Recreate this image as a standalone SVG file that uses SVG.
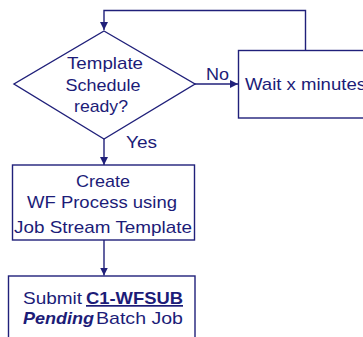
<svg xmlns="http://www.w3.org/2000/svg" width="363" height="337" viewBox="0 0 363 337">
<style>
.s{fill:#fff;stroke:#20207a;stroke-width:1.4}
.c{fill:none;stroke:#20207a;stroke-width:1.4}
.t{font-family:"Liberation Sans",Arial,sans-serif;font-size:17px;fill:#1c1c78}
.m{text-anchor:middle}
</style>
<defs>
<marker id="a" viewBox="0 0 10 10" refX="10" refY="5" markerWidth="8" markerHeight="8" markerUnits="userSpaceOnUse" orient="auto">
<path d="M0,0 L10,5 L0,10 z" fill="#20207a"/>
</marker>
</defs>
<rect width="363" height="337" fill="#fff"/>
<g id="connectors">
<path class="c" d="M305.5,50.5 V10.5 H104 V30" marker-end="url(#a)"/>
<path class="c" d="M195,84 H238" marker-end="url(#a)"/>
<path class="c" d="M104,139 V165" marker-end="url(#a)"/>
<path class="c" d="M104,240 V275.5" marker-end="url(#a)"/>
<text class="t" x="206" y="80" textLength="23" lengthAdjust="spacingAndGlyphs">No</text>
<text class="t" x="126" y="148" textLength="31" lengthAdjust="spacingAndGlyphs">Yes</text>
</g>
<g id="decision">
<polygon class="s" points="104,31 195,84 104,139 14,84"/>
<text class="t m" x="105" y="69" textLength="76" lengthAdjust="spacingAndGlyphs">Template</text>
<text class="t m" x="103" y="91" textLength="75" lengthAdjust="spacingAndGlyphs">Schedule</text>
<text class="t m" x="101" y="112" textLength="54" lengthAdjust="spacingAndGlyphs">ready?</text>
</g>
<g id="wait">
<rect class="s" x="238.5" y="50.5" width="130" height="67.5"/>
<text class="t" x="245" y="90" textLength="121" lengthAdjust="spacingAndGlyphs">Wait x minutes</text>
</g>
<g id="create">
<rect class="s" x="12.5" y="165" width="182" height="75"/>
<text class="t m" x="103" y="187" textLength="54" lengthAdjust="spacingAndGlyphs">Create</text>
<text class="t m" x="102" y="208" textLength="150" lengthAdjust="spacingAndGlyphs">WF Process using</text>
<text class="t m" x="103" y="232.5" textLength="178" lengthAdjust="spacingAndGlyphs">Job Stream Template</text>
</g>
<g id="submit">
<rect class="s" x="8.5" y="276" width="186.5" height="70"/>
<text class="t" x="23" y="304"><tspan textLength="59" lengthAdjust="spacingAndGlyphs">Submit</tspan> <tspan x="86" font-weight="bold" text-decoration="underline" textLength="97" lengthAdjust="spacingAndGlyphs">C1-WFSUB</tspan></text>
<text class="t" x="23" y="324"><tspan font-weight="bold" font-style="italic" textLength="71" lengthAdjust="spacingAndGlyphs">Pending</tspan><tspan x="96" textLength="87" lengthAdjust="spacingAndGlyphs">Batch Job</tspan></text>
</g>
</svg>
